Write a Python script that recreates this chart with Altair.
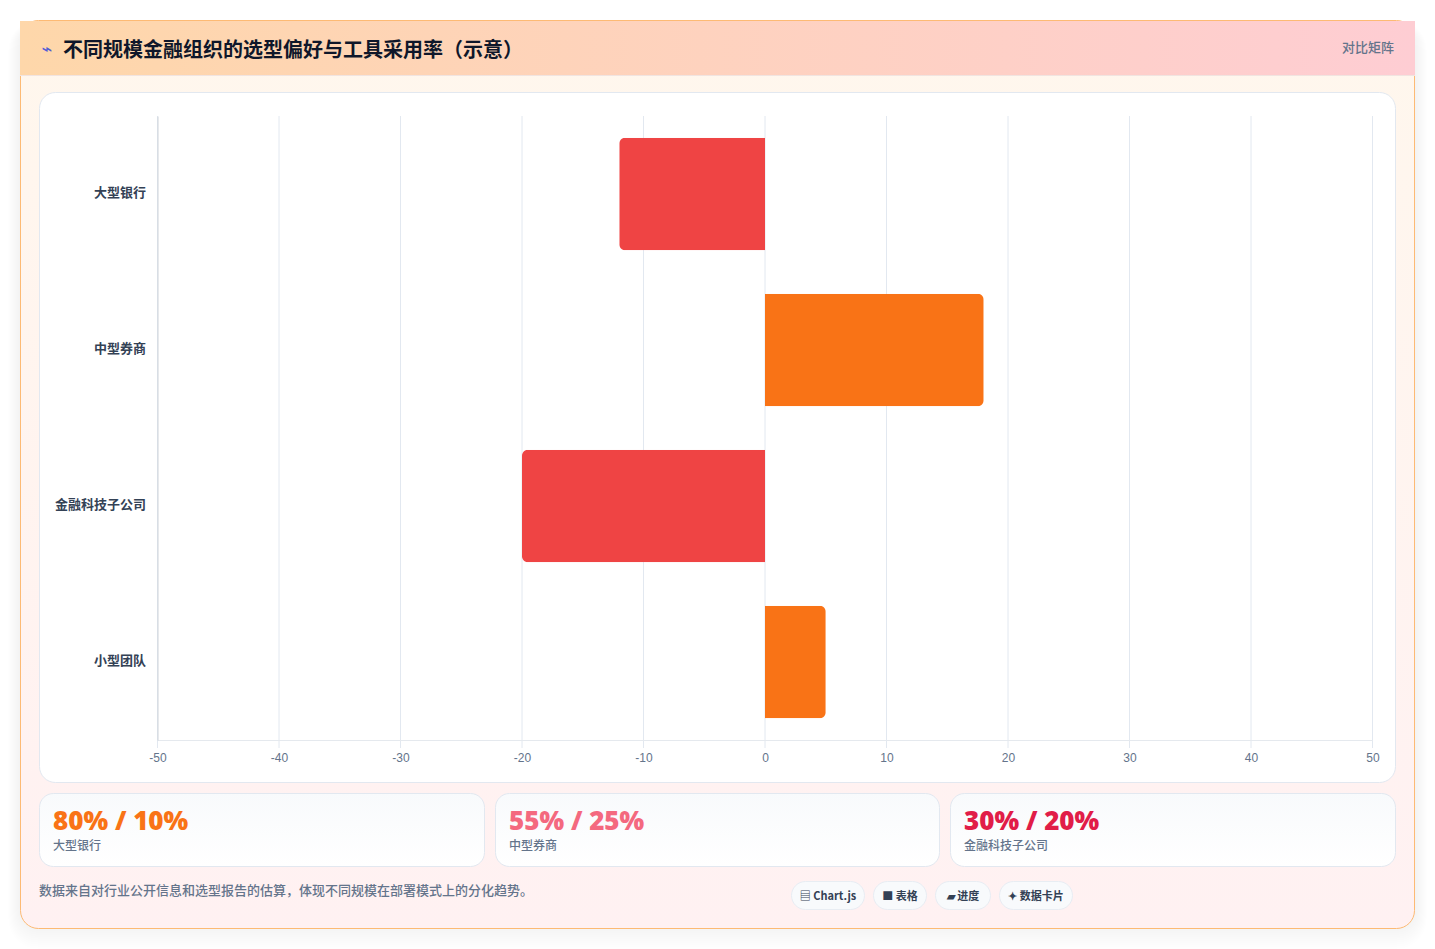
import altair as alt
import pandas as pd

orgs = ["大型银行", "中型券商", "金融科技子公司", "小型团队"]
values = [-12, 18, -20, 5]
x_ticks = [-50, -40, -30, -20, -10, 0, 10, 20, 30, 40, 50]
kpi_values = ["80% / 10%", "55% / 25%", "30% / 20%"]
kpi_labels = ["大型银行", "中型券商", "金融科技子公司"]
kpi_colors = ["#f97316", "#f4697f", "#e11d48"]
pill_labels = ["▤ Chart.js", "■ 表格", "▰ 进度", "✦ 数据卡片"]
title_text = "不同规模金融组织的选型偏好与工具采用率（示意）"
badge_text = "对比矩阵"
note_text = "数据来自对行业公开信息和选型报告的估算，体现不同规模在部署模式上的分化趋势。"

OX, OY = 157.5, 116   # page position of the plot origin
CJK = "Noto Sans CJK SC"


def grad(c0, c1, horizontal=False):
    return alt.LinearGradient(
        gradient="linear",
        stops=[alt.GradientStop(offset=0, color=c0), alt.GradientStop(offset=1, color=c1)],
        x1=0, y1=0, x2=1 if horizontal else 0, y2=0 if horizontal else 1,
    )


def box(x0, y0, x1, y1, **kw):
    return alt.Chart().mark_rect(**kw).encode(
        x=alt.value(x0 - OX), x2=alt.value(x1 - OX),
        y=alt.value(y0 - OY), y2=alt.value(y1 - OY),
    )


def label(s, x, y, size, color, weight="normal", font=CJK, align="left"):
    return alt.Chart().mark_text(
        font=font, fontSize=size, color=color, fontWeight=weight, align=align, baseline="middle"
    ).encode(x=alt.value(x - OX), y=alt.value(y - OY), text=alt.value(s))


layers = []

# soft shadow of the outer card
for e in range(1, 13):
    layers.append(box(20 - e, 26 - e * 0.5, 1415 + e, 929 + 2 * e - 4, color="#0f172a", opacity=0.0042,
                      cornerRadius=18 + e))

# outer card and header
layers.append(box(20.5, 20.5, 1414.5, 928.5, fill=grad("#fff7ed", "#fff1f2"), stroke="#fdba74",
                  strokeWidth=1, cornerRadius=18))
layers.append(box(20, 21, 1415, 75, fill=grad("#fed7aa", "#fecdd3", True)))
layers.append(box(20, 75, 1415, 76, color="#f1e4e0"))
layers.append(label("⌁", 47, 50, 18, "#4f5bd5", font="DejaVu Sans", align="center"))
layers.append(label(title_text, 63, 51, 20, "#0f172a", "bold"))
layers.append(label(badge_text, 1394, 48, 13, "#64748b", 500, align="right"))

# chart panel
layers.append(box(39.5, 92.5, 1395.5, 782.5, color="#ffffff", stroke="#e2e8f0", strokeWidth=1,
                  cornerRadius=16))

# KPI cards
kpi_x = [(39.5, 484.5), (495.5, 939.5), (950.5, 1395.5)]
for (x0, x1), v, l, c in zip(kpi_x, kpi_values, kpi_labels, kpi_colors):
    layers.append(box(x0, 793.5, x1, 866.5, fill=grad("#f8fafc", "#ffffff"), stroke="#e2e8f0",
                      strokeWidth=1, cornerRadius=14))
    layers.append(label(v, x0 + 13.5, 822, 26, c, 900, font="Noto Sans"))
    layers.append(label(l, x0 + 13.5, 846, 12, "#64748b", 500))

# footer
layers.append(label(note_text, 39, 891, 13, "#64748b", 500))
pill_x = [(791.5, 864.5), (873.5, 926.5), (935.5, 990.5), (999.5, 1072.5)]
for (x0, x1), p in zip(pill_x, pill_labels):
    layers.append(box(x0, 881.5, x1, 909.5, color="#f8fafc", stroke="#e8edf3", strokeWidth=1,
                      cornerRadius=14))
    layers.append(label(p, (x0 + x1) / 2, 897, 11, "#334155", "bold", align="center"))

# shared scales and axes
x_scale = alt.Scale(domain=[-50, 50], nice=False, zero=False)
x_axis = alt.Axis(
    values=x_ticks, title=None, grid=False, ticks=False, labelPadding=12, labelFontSize=12,
    labelColor="#64748b", labelFont="Liberation Sans", domainColor="#e5e9ee", zindex=1,
    labelFlush=False, labelExpr="'' + datum.value",
)
y_enc = alt.Y(
    "org:N",
    sort=orgs,
    scale=alt.Scale(domain=orgs, paddingInner=0.28, paddingOuter=0.14),
    axis=alt.Axis(
        title=None, grid=False, ticks=False, labelPadding=12, labelOffset=-1.5, labelFontSize=13,
        labelColor="#334155", labelFont=CJK, labelFontWeight="bold", domainColor="#cfd4da",
        zindex=1, labelLimit=200,
    ),
)

# grid
grid = alt.Chart(pd.DataFrame({"tick": x_ticks})).mark_rule(color="#e2e8f0", strokeWidth=1).encode(
    x=alt.X("tick:Q", scale=x_scale, axis=x_axis),
    y=alt.value(0),
    y2=alt.value(632),
)
layers.append(grid)

# bars: the corners away from zero are rounded
df = pd.DataFrame({"org": orgs, "value": values})
neg = alt.Chart(df).transform_filter(alt.datum.value < 0).mark_bar(
    color="#ef4444", cornerRadiusTopLeft=6, cornerRadiusBottomLeft=6
).encode(x=alt.X("value:Q", scale=x_scale, axis=x_axis), y=y_enc)
pos = alt.Chart(df).transform_filter(alt.datum.value >= 0).mark_bar(
    color="#f97316", cornerRadiusTopRight=6, cornerRadiusBottomRight=6
).encode(x=alt.X("value:Q", scale=x_scale, axis=x_axis), y=y_enc)
layers += [neg, pos]

chart = alt.layer(*layers).properties(
    width=1215,
    height=624,
    padding={"left": 149.5, "top": 108, "right": 54.5, "bottom": 209},
    autosize=alt.AutoSizeParams(type="none"),
    background="#ffffff",
).configure_view(stroke=None)

chart.save("out.html", embed_options={"renderer": "svg", "actions": False})
